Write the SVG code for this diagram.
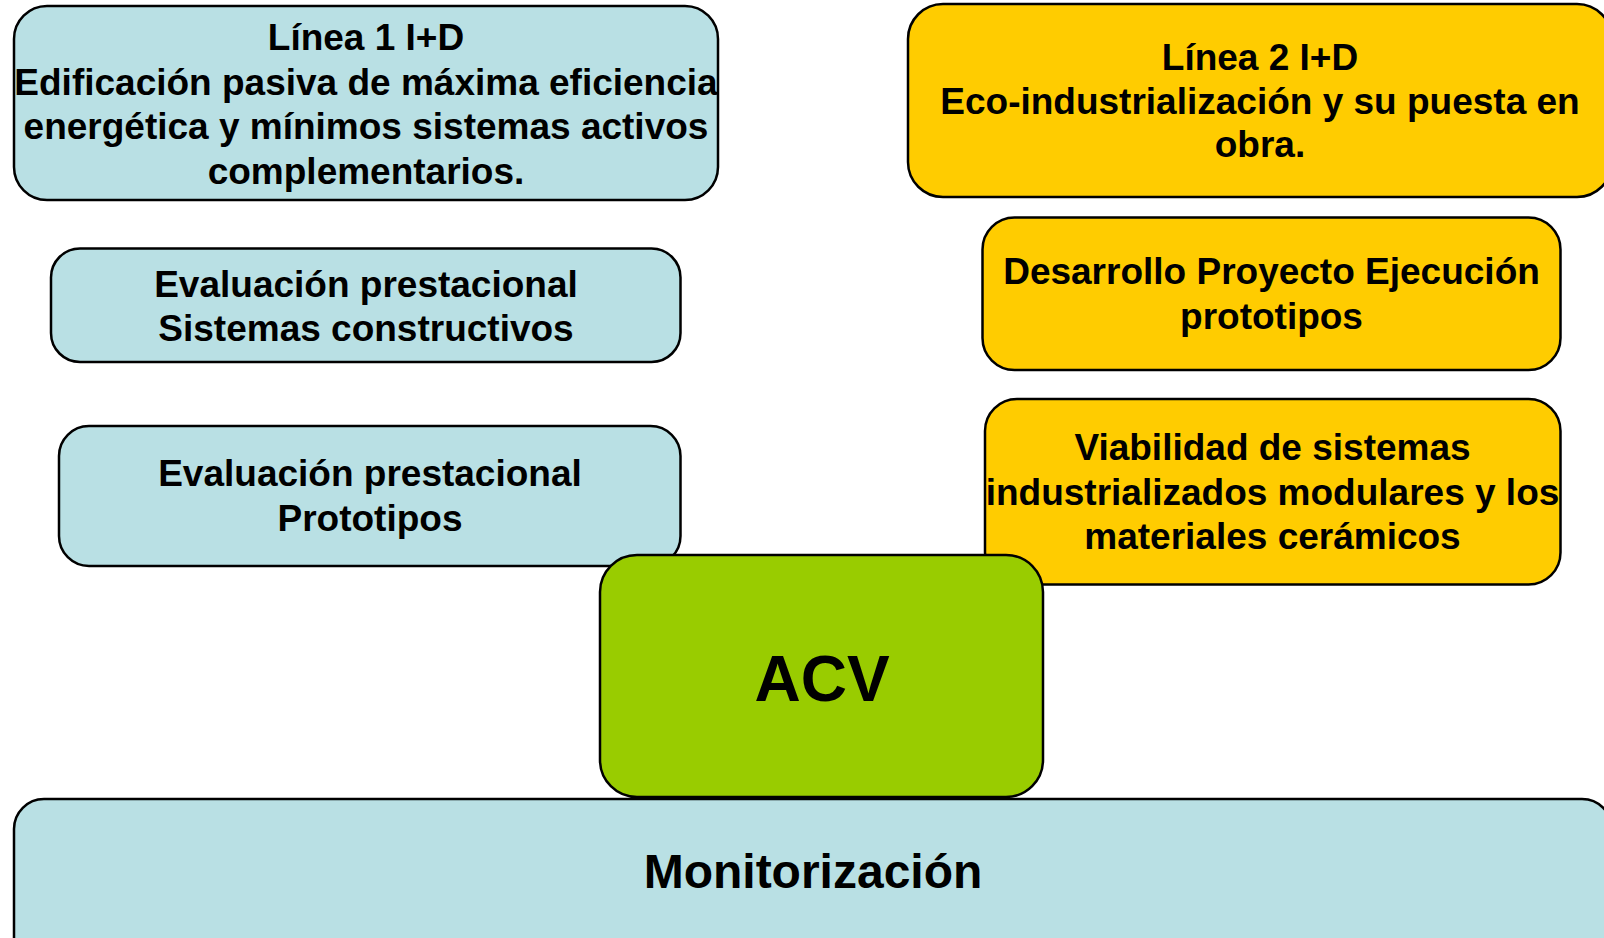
<svg xmlns="http://www.w3.org/2000/svg" width="1604" height="938" viewBox="0 0 1604 938">
<style>
.box{stroke:#000;stroke-width:2.5}
.blue{fill:#B9E0E4}
.yellow{fill:#FFCC00}
.green{fill:#99CC00}
text{font-family:"Liberation Sans",Arial,sans-serif;font-weight:bold;fill:#000;text-anchor:middle}
.t{font-size:37px}
</style>
<rect width="1604" height="938" fill="#fff"/>
<g id="linea1">
<rect class="box blue" x="14" y="6" width="704" height="194" rx="33" ry="33"/>
<text class="t" x="366" y="50">Línea 1 I+D</text>
<text class="t" x="366" y="94.5">Edificación pasiva de máxima eficiencia</text>
<text class="t" x="366" y="139">energética y mínimos sistemas activos</text>
<text class="t" x="366" y="183.5">complementarios.</text>
</g>
<g id="eval-sistemas">
<rect class="box blue" x="51" y="248.5" width="629.5" height="113.5" rx="29" ry="29"/>
<text class="t" x="366" y="297">Evaluación prestacional</text>
<text class="t" x="366" y="340.5">Sistemas constructivos</text>
</g>
<g id="eval-prototipos">
<rect class="box blue" x="59" y="426" width="621.5" height="140" rx="30" ry="30"/>
<text class="t" x="370" y="486">Evaluación prestacional</text>
<text class="t" x="370" y="531">Prototipos</text>
</g>
<g id="linea2">
<rect class="box yellow" x="908" y="4" width="704" height="193" rx="35" ry="35"/>
<text class="t" x="1260" y="70">Línea 2 I+D</text>
<text class="t" x="1260" y="113.5">Eco-industrialización y su puesta en</text>
<text class="t" x="1260" y="157">obra.</text>
</g>
<g id="desarrollo">
<rect class="box yellow" x="982.5" y="217.5" width="578" height="152.5" rx="32" ry="32"/>
<text class="t" x="1271.5" y="284">Desarrollo Proyecto Ejecución</text>
<text class="t" x="1271.5" y="329">prototipos</text>
</g>
<g id="viabilidad">
<rect class="box yellow" x="985" y="399" width="575.5" height="185.5" rx="32" ry="32"/>
<text class="t" x="1272.5" y="460">Viabilidad de sistemas</text>
<text class="t" x="1272.5" y="504.5">industrializados modulares y los</text>
<text class="t" x="1272.5" y="549">materiales cerámicos</text>
</g>
<g id="monitorizacion">
<rect class="box blue" x="14" y="799" width="1598" height="170" rx="30" ry="30"/>
<text x="813" y="888" font-size="48">Monitorización</text>
</g>
<g id="acv">
<rect class="box green" x="600" y="555" width="443" height="242" rx="37" ry="37"/>
<text x="822" y="701" font-size="64">ACV</text>
</g>
<g id="connectors"></g>
</svg>
